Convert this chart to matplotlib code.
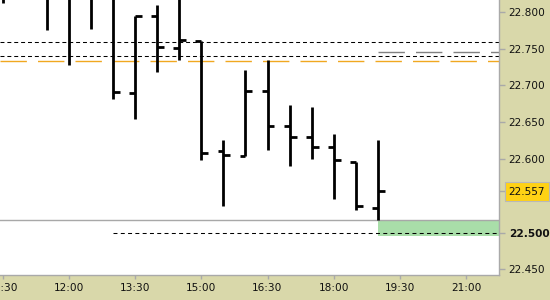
import matplotlib
matplotlib.use("Agg")
import matplotlib.pyplot as plt
from matplotlib.patches import Rectangle
import numpy as np

# 30-minute bars, time in minutes since midnight
times = [630, 660, 690, 720, 750, 780, 810, 840, 870, 900, 930, 960,
         990, 1020, 1050, 1080, 1110, 1140]
opens = [22.860, 22.840, 22.850, 22.830, 22.820, 22.840, 22.690, 22.795,
         22.751, 22.760, 22.611, 22.604, 22.693, 22.645, 22.630, 22.616,
         22.596, 22.534]
highs = [22.880, 22.870, 22.870, 22.860, 22.850, 22.850, 22.795, 22.810,
         22.830, 22.760, 22.626, 22.721, 22.735, 22.674, 22.671, 22.634,
         22.596, 22.626]
lows = [22.812, 22.822, 22.775, 22.728, 22.777, 22.682, 22.655, 22.719,
        22.735, 22.598, 22.536, 22.604, 22.612, 22.591, 22.600, 22.546,
        22.530, 22.517]
closes = [22.830, 22.850, 22.830, 22.825, 22.835, 22.691, 22.794, 22.752,
          22.762, 22.608, 22.605, 22.693, 22.645, 22.630, 22.616, 22.598,
          22.536, 22.557]

level_black = [22.759, 22.740]
level_orange = 22.7335
level_gray = 22.745
last_low = 22.517
level_target = 22.500
zone = (22.4958, 22.5163)
target_start = 780

ytick_vals = [22.45, 22.50, 22.60, 22.65, 22.70, 22.75, 22.80]
last_price = 22.557
xtick_vals = [630, 720, 810, 900, 990, 1080, 1170, 1260]
xtick_labels = ["10:30", "12:00", "13:30", "15:00", "16:30", "18:00",
                "19:30", "21:00"]

khaki = "#d9d8aa"
grey = "#a9a9a9"

plt.rcParams["font.family"] = ["DejaVu Sans"]
fig = plt.figure(figsize=(5.5, 3.0), dpi=100, facecolor=khaki)
ax = fig.add_axes([0, 25 / 300, 499 / 550, 275 / 300])
ax.set_facecolor("white")

xmin, xmax = 626.1, 1304.9
ax.set_xlim(xmin, xmax)
ax.set_ylim(22.4422, 22.8163)

# levels
for lv in level_black:
    ax.axhline(lv, color="black", lw=0.75, ls=(0, (3.8, 2.8)), zorder=2)
ax.axhline(level_orange, color="#f0a820", lw=1.0, ls=(0, (19, 8)),
           zorder=2, snap=True)
ax.hlines(level_gray, times[-1], xmax, color="#808080", lw=1.0,
          ls=(0, (19, 8)), zorder=2)
ax.axhline(last_low, color="#a8a8a8", lw=1.0, zorder=2)
ax.add_patch(Rectangle((times[-1], zone[0]), xmax - times[-1],
                       zone[1] - zone[0], facecolor="#a9dea9",
                       edgecolor="none", zorder=1))
ax.hlines(level_target, target_start, xmax, color="black", lw=0.75,
          ls=(0, (3.8, 3.2)), zorder=3)

# OHLC bars
t = np.array(times, dtype=float)
ax.vlines(t, lows, highs, color="black", lw=2.0, zorder=4)
ax.hlines(opens, t - 8, t, color="black", lw=2.0, zorder=4)
ax.hlines(closes, t, t + 9.5, color="black", lw=2.0, zorder=4)

# axes styling
for s in ["top", "left"]:
    ax.spines[s].set_visible(False)
for s in ["right", "bottom"]:
    ax.spines[s].set_color(grey)
    ax.spines[s].set_linewidth(1.0)

ax.yaxis.tick_right()
yt = ytick_vals + [last_price]
ax.set_yticks(yt)
ax.set_yticklabels(["%.3f" % v for v in yt])
ax.tick_params(axis="y", which="major", length=4, width=1.0, color=grey,
               pad=3, labelsize=7.6, labelcolor="#111111")
ax.set_xticks(xtick_vals)
ax.set_xticklabels(xtick_labels)
ax.tick_params(axis="x", which="major", length=3, width=1.0, color=grey,
               pad=2.5, labelsize=7.6, labelcolor="#111111")

ticks = ax.yaxis.get_major_ticks()
labels = ax.get_yticklabels()
for tk, lab, v in zip(ticks, labels, yt):
    if v == last_price:
        tk.tick2line.set_color("black")
        lab.set_bbox(dict(boxstyle="square,pad=0.4", facecolor="#ffd215",
                          edgecolor="#b8b8b8", lw=0.8))
    if abs(v - 22.50) < 1e-9:
        lab.set_fontweight("bold")

fig.savefig("out.png", dpi=100, facecolor=khaki)
